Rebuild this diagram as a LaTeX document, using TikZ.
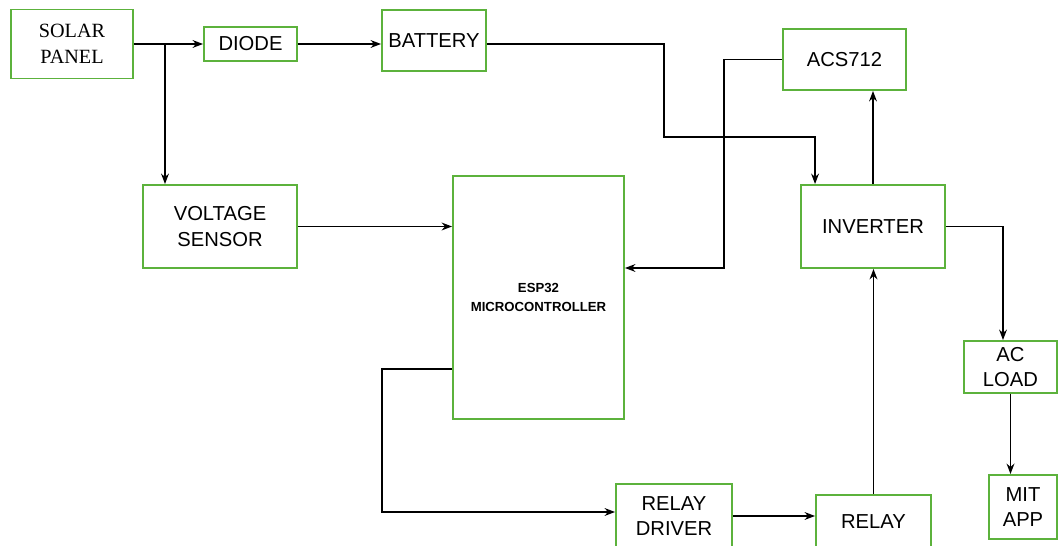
\documentclass[tikz,border=0pt]{standalone}
\usepackage{fontspec}
\setmainfont{Liberation Sans}
\newfontfamily\panelfont{Liberation Serif}
\usetikzlibrary{arrows.meta}
\definecolor{boxgreen}{RGB}{92,178,60}

\begin{document}
\begin{tikzpicture}[x=0.02cm,y=-0.02cm,
  block/.style={draw=boxgreen, line width=1.1pt, fill=white, align=center,
    inner sep=0pt, font=\fontsize{11.5}{14.5}\selectfont}]
\useasboundingbox (0,0) rectangle (1059,546);
\clip (0,0) rectangle (1059,546);

\node[block, minimum width=2.44cm, minimum height=1.38cm] (solar) at (72,44)
  {\panelfont SOLAR\\\panelfont PANEL};
\node[block, minimum width=1.86cm, minimum height=0.68cm] (diode) at (250.5,44) {DIODE};
\node[block, minimum width=2.08cm, minimum height=1.22cm] (battery) at (434,40.5) {BATTERY};
\node[block, minimum width=2.46cm, minimum height=1.22cm] (acs) at (844.5,59.5) {ACS712};
\node[block, minimum width=3.08cm, minimum height=1.66cm] (volt) at (220,226.5) {VOLTAGE\\SENSOR};
\node[block, minimum width=3.42cm, minimum height=4.86cm,
  font=\bfseries\fontsize{7.5}{10.8}\selectfont] (esp) at (538.5,297.5) {ESP32\\MICROCONTROLLER};
\node[block, minimum width=2.88cm, minimum height=1.66cm] (inv) at (873,226.5) {INVERTER};
\node[block, minimum width=1.86cm, minimum height=1.04cm] (load) at (1010.5,367) {AC\\LOAD};
\node[block, minimum width=1.36cm, minimum height=1.28cm] (mit) at (1023,507) {MIT\\APP};
\node[block, minimum width=2.32cm, minimum height=1.28cm] (drv) at (674,516) {RELAY\\DRIVER};
\node[block, minimum width=2.30cm, minimum height=1.06cm] (relay) at (873.5,521.5) {RELAY};

\coordinate (split) at (165,44);
\coordinate (bend) at (664,137);
\coordinate (tapacs) at (724,268);
\coordinate (tapesp) at (382,512);

\begin{scope}[>={Stealth[scale=0.9]}, line width=0.8pt]
\draw[->] (solar.east) -- (diode.west);
\draw[->] (split) -- (split |- volt.north);
\draw[->] (diode.east) -- (diode.east -| battery.west);
\draw[->] (battery.east |- diode.east) -| (bend) -| ([xshift=0.3cm]inv.north west);
\draw[->] (acs.west) -| (tapacs) -- (tapacs -| esp.east);
\draw[->] (inv.north) -- (inv.north |- acs.south);
\draw[->] (volt.east) -- (volt.east -| esp.west);
\draw[->] ([yshift=-1.43cm]esp.west) -| (tapesp) -- (tapesp -| drv.west);
\draw[->] (drv.east) -- (drv.east -| relay.west);
\draw[->] (relay.north) -- (relay.north |- inv.south);
\draw[->] (inv.east) -| ([xshift=-0.15cm]load.north);
\draw[->] (load.south) -- (load.south |- mit.north);
\end{scope}

\end{tikzpicture}
\end{document}
